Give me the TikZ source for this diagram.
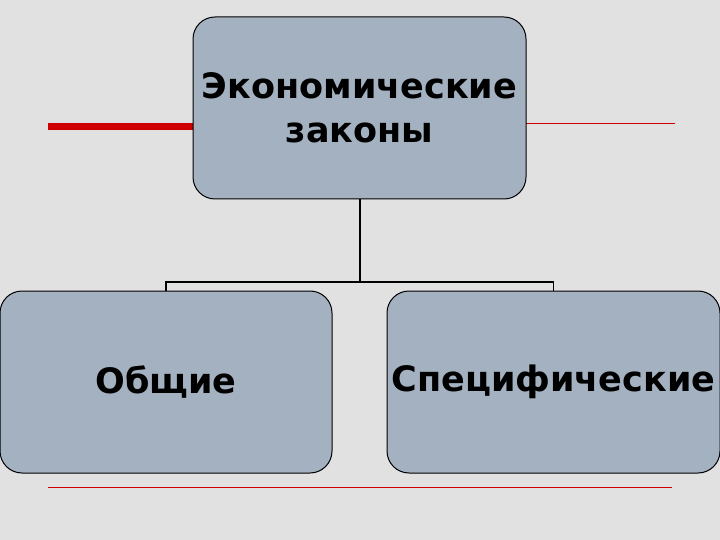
\documentclass[tikz,border=0pt]{standalone}
\usepackage{fontspec}
\setmainfont{DejaVu Sans}
\begin{document}
\begin{tikzpicture}[x=1pt,y=-1pt,
  box/.style={draw=black,line width=1pt,fill=boxc,rounded corners=22pt,inner sep=0pt,align=center,font=\fontsize{35}{44}\selectfont\bfseries},
  conn/.style={draw=black,line width=1.2pt}]
\definecolor{boxc}{HTML}{A3B1C0}
\definecolor{bgc}{HTML}{E1E1E1}
\definecolor{redc}{HTML}{D00000}
\fill[bgc] (0,0) rectangle (720,540);
\useasboundingbox (0,0) rectangle (720,540);
\coordinate (r1a) at (48,127); \coordinate (r1b) at (200,127);
\draw[redc,line width=7pt] (r1a) -- (r1b);
\coordinate (r2a) at (520,123); \coordinate (r2b) at (675,123);
\draw[redc,line width=0.8pt] (r2a) -- (r2b);
\coordinate (r3a) at (48,487); \coordinate (r3b) at (672,487);
\draw[redc,line width=0.8pt] (r3a) -- (r3b);
\node[box,minimum width=333pt,minimum height=182pt] (top) at (359.5,108) {Экономические\\законы};
\node[box,minimum width=332pt,minimum height=182pt] (l) at (166,382) {Общие};
\node[box,minimum width=333pt,minimum height=182pt] (r) at (553.5,382) {Специфические};
\coordinate (j) at (360,282);
\draw[conn] (top.south -| j) -- (j);
\draw[conn] (l.north) -- (l.north |- j) -- (r.north |- j) -- (r.north);
\end{tikzpicture}
\end{document}
